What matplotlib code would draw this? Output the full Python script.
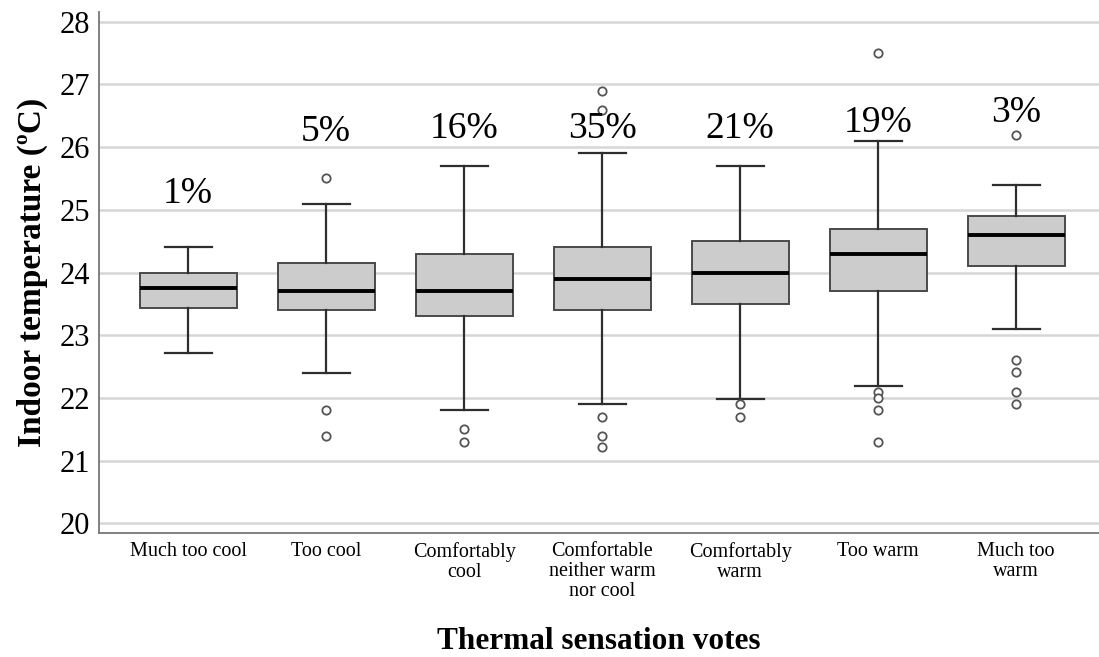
import matplotlib
matplotlib.use("Agg")
import matplotlib.pyplot as plt

categories = ["Much too cool", "Too cool", "Comfortably\ncool",
              "Comfortable\nneither warm\nnor cool", "Comfortably\nwarm",
              "Too warm", "Much too\nwarm"]
q1 = [23.44, 23.4, 23.3, 23.41, 23.49, 23.7, 24.11]
median = [23.75, 23.7, 23.71, 23.9, 24.0, 24.3, 24.6]
q3 = [24.0, 24.15, 24.3, 24.4, 24.5, 24.69, 24.9]
whislo = [22.71, 22.4, 21.8, 21.9, 21.99, 22.19, 23.1]
whishi = [24.41, 25.09, 25.7, 25.9, 25.7, 26.1, 25.4]
outliers = [
    [],
    [25.5, 21.8, 21.4],
    [21.51, 21.3],
    [26.9, 26.6, 21.7, 21.4, 21.21],
    [21.9, 21.7],
    [27.5, 22.1, 22.0, 21.8, 21.3],
    [26.2, 22.61, 22.41, 22.1, 21.9],
]
percent_labels = ["1%", "5%", "16%", "35%", "21%", "19%", "3%"]
label_y = [25.26, 26.25, 26.29, 26.29, 26.29, 26.39, 26.55]
yticks = [20, 21, 22, 23, 24, 25, 26, 27, 28]

serif = ["Liberation Serif", "DejaVu Serif"]
plt.rcParams["font.family"] = serif

fig = plt.figure(figsize=(10.99, 6.57), dpi=100)
ax = fig.add_axes([0.0904, 0.1892, 0.9096, 0.7925])

stats = []
for i in range(len(categories)):
    stats.append(dict(q1=q1[i], med=median[i], q3=q3[i], whislo=whislo[i],
                      whishi=whishi[i], fliers=outliers[i], label=categories[i]))

ax.set_axisbelow(True)
ax.yaxis.grid(True, color="#d6d6d6", linewidth=1.8)
ax.bxp(stats, positions=range(len(categories)), widths=0.703, patch_artist=True,
       boxprops=dict(facecolor="#cccccc", edgecolor="#4a4a4a", linewidth=1.4),
       medianprops=dict(color="black", linewidth=2.8),
       whiskerprops=dict(color="#2e2e2e", linewidth=1.6),
       capprops=dict(color="#2e2e2e", linewidth=1.6),
       capwidths=0.34,
       flierprops=dict(marker="o", markerfacecolor="white", markeredgecolor="#555555",
                       markersize=6, markeredgewidth=1.3, linestyle="none"))

for i, (t, yv) in enumerate(zip(percent_labels, label_y)):
    ax.text(i, yv, t, ha="center", va="center", fontsize=27, color="black")

ax.set_xlim(-0.643, 6.60)
ax.set_ylim(19.85, 28.155)
ax.set_yticks(yticks)
ax.set_yticklabels([str(v) for v in yticks], fontsize=22)
ax.set_xticks(range(len(categories)))
ax.set_xticklabels(categories, fontsize=14.5, linespacing=1.05)
ax.tick_params(axis="x", length=0, pad=7)
ax.tick_params(axis="y", length=0, pad=7)

for s in ["top", "right"]:
    ax.spines[s].set_visible(False)
ax.spines["left"].set_color("#777777")
ax.spines["bottom"].set_color("#777777")
ax.spines["left"].set_linewidth(1.3)
ax.spines["bottom"].set_linewidth(1.3)

ax.set_ylabel("Indoor temperature (ºC)", fontsize=24, fontweight="bold", labelpad=8)
ax.set_xlabel("Thermal sensation votes", fontsize=22.5, fontweight="bold", labelpad=19)

fig.savefig("out.png", dpi=100)
